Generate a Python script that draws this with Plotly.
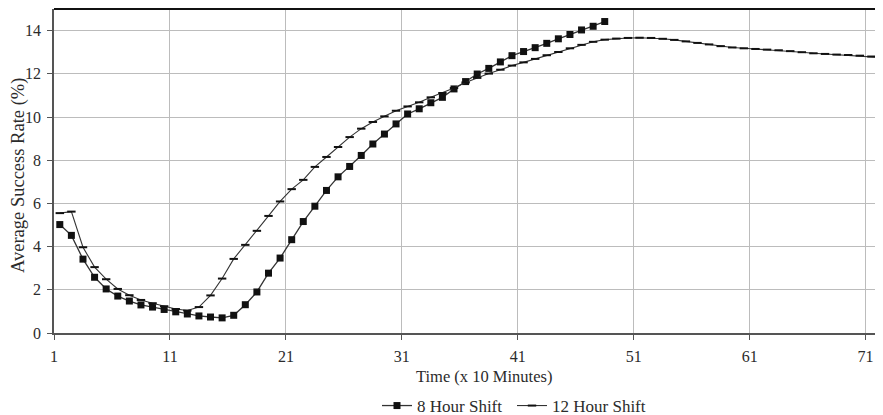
import plotly.graph_objects as go

# ---- data ----
time_8h = list(range(1, 49))
rate_8h = [5.02, 4.52, 3.42, 2.58, 2.04, 1.71, 1.48, 1.30, 1.20, 1.09,
           0.98, 0.88, 0.79, 0.74, 0.70, 0.82, 1.31, 1.90, 2.77, 3.47,
           4.32, 5.16, 5.87, 6.60, 7.23, 7.71, 8.22, 8.75, 9.21, 9.68,
           10.14, 10.38, 10.66, 10.91, 11.30, 11.64, 11.99, 12.25, 12.55, 12.84,
           13.03, 13.21, 13.41, 13.62, 13.82, 14.03, 14.20, 14.42]

time_12h = list(range(1, 73))
rate_12h = [5.55, 5.62, 3.97, 3.05, 2.49, 2.04, 1.75, 1.53, 1.38, 1.24,
            1.11, 1.04, 1.20, 1.74, 2.52, 3.43, 4.08, 4.73, 5.42, 6.09,
            6.66, 7.09, 7.69, 8.15, 8.61, 9.07, 9.46, 9.77, 10.03, 10.29,
            10.49, 10.68, 10.91, 11.11, 11.34, 11.60, 11.81, 12.01, 12.19, 12.38,
            12.53, 12.69, 12.86, 13.01, 13.18, 13.34, 13.48, 13.58, 13.63, 13.66,
            13.67, 13.66, 13.62, 13.57, 13.50, 13.43, 13.36, 13.28, 13.22, 13.18,
            13.15, 13.12, 13.09, 13.05, 13.00, 12.95, 12.92, 12.89, 12.87, 12.84,
            12.80, 12.75]

x_tick_labels = ["1", "11", "21", "31", "41", "51", "61", "71"]
x_tick_pos = [int(t) - 0.5 for t in x_tick_labels]
y_ticks = [0, 2, 4, 6, 8, 10, 12, 14]

FONT = "Liberation Serif"
TXT = "#2b2b2b"

fig = go.Figure()
fig.add_trace(go.Scatter(
    x=time_8h, y=rate_8h, name="8 Hour Shift", mode="lines+markers",
    line=dict(color="#333333", width=1.3),
    marker=dict(symbol="square", size=7, color="#111111"),
    legend="legend",
))
fig.add_trace(go.Scatter(
    x=time_12h, y=rate_12h, name="12 Hour Shift", mode="lines+markers",
    line=dict(color="#333333", width=1.1),
    marker=dict(symbol="line-ew", size=6, color="#111111",
                line=dict(color="#111111", width=2)),
    legend="legend2",
))

legend_y = -(398 - 325) / 324
legend_common = dict(orientation="h", xanchor="left", y=legend_y, yanchor="middle",
                     font=dict(family=FONT, size=17, color=TXT),
                     itemwidth=30, bgcolor="rgba(0,0,0,0)")

# page has an 8px body margin, so the figure is sized to fill the rest of the window
fig.update_layout(
    width=875, height=407,
    margin=dict(l=46, r=0, t=1, b=82, autoexpand=False),
    paper_bgcolor="white", plot_bgcolor="white",
    font=dict(family=FONT, size=15, color=TXT),
    showlegend=True,
    legend=dict(x=(377 - 54) / 829, **legend_common),
    legend2=dict(x=(512 - 54) / 829, **legend_common),
    xaxis=dict(
        range=[0.5, 72.0], tickmode="array", tickvals=x_tick_pos, ticktext=x_tick_labels,
        showgrid=True, gridcolor="#bcbcbc", gridwidth=1.3,
        showline=True, linecolor="#555555", linewidth=1.5,
        ticks="outside", ticklen=5, tickcolor="#555555", tickwidth=1.3,
        ticklabelstandoff=3, zeroline=False, automargin=False,
        tickfont=dict(family=FONT, size=16, color=TXT),
    ),
    yaxis=dict(
        range=[0, 15], tickmode="array", tickvals=y_ticks,
        showgrid=True, gridcolor="#bcbcbc", gridwidth=1.3,
        showline=True, linecolor="#555555", linewidth=1.5,
        ticks="outside", ticklen=5, tickcolor="#555555", tickwidth=1.3,
        ticklabelstandoff=3, zeroline=False, automargin=False,
        tickfont=dict(family=FONT, size=16, color=TXT),
    ),
    shapes=[dict(type="line", xref="paper", yref="paper", x0=0, x1=1, y0=1, y1=1,
                 line=dict(color="#111111", width=2))],
    annotations=[
        dict(text="Time (x 10 Minutes)", xref="paper", yref="paper",
             x=(476 - 46) / 829, y=-(368 - 325) / 324, xanchor="center", yanchor="middle",
             showarrow=False, font=dict(family=FONT, size=16.5, color=TXT)),
        dict(text="Average Success Rate (%)", xref="paper", yref="paper",
             x=-(46 - 10) / 829, y=(325 - 168) / 324, xanchor="center", yanchor="middle",
             textangle=-90, showarrow=False, font=dict(family=FONT, size=18.5, color=TXT)),
    ],
)

fig.write_html("out.html")
